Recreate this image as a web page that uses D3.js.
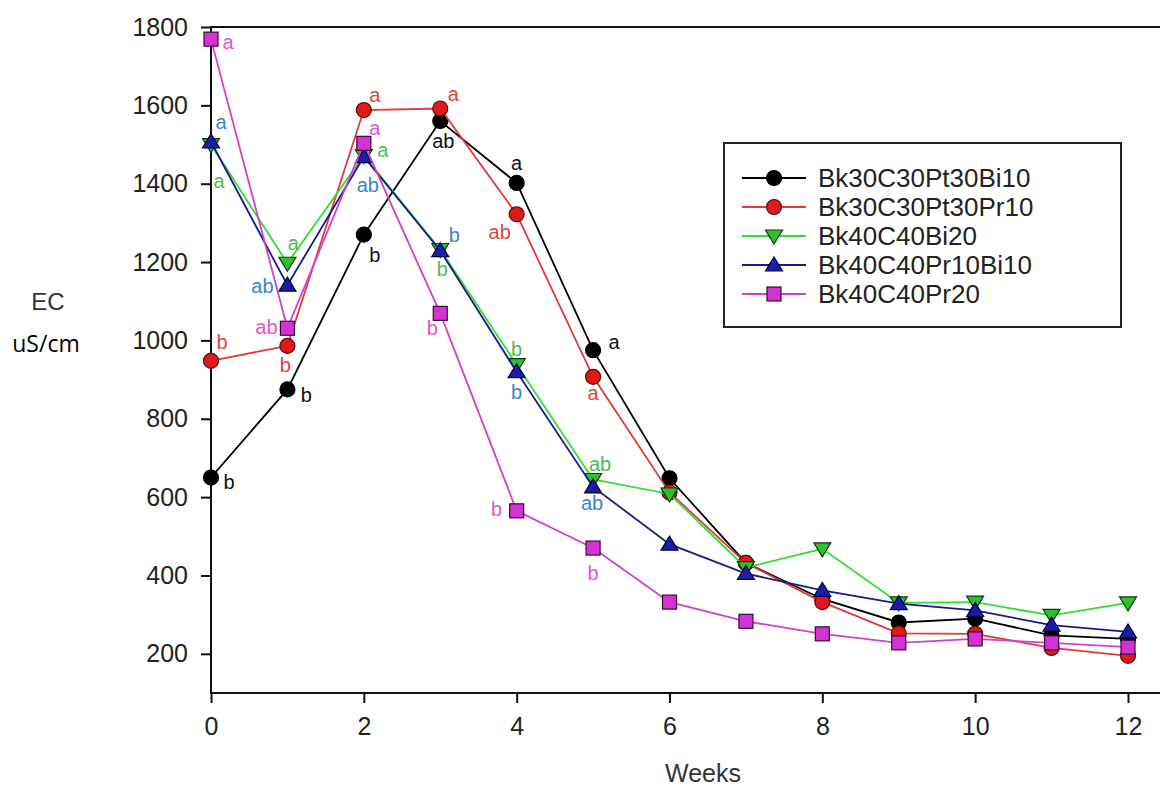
<!DOCTYPE html>
<html>
<head>
<meta charset="utf-8">
<script src="https://cdn.jsdelivr.net/npm/d3@7"></script>
<style>
  html, body { margin: 0; padding: 0; background: #fff; }
  svg { display: block; }
  text { font-family: "Liberation Sans", Arial, sans-serif; }
</style>
</head>
<body>
<svg id="chart" width="1160" height="786"></svg>
<script>
// ---- data ----
const weeks = [0, 1, 2, 3, 4, 5, 6, 7, 8, 9, 10, 11, 12];
const seriesNames = ["Bk30C30Pt30Bi10", "Bk30C30Pt30Pr10", "Bk40C40Bi20", "Bk40C40Pr10Bi10", "Bk40C40Pr20"];
const ecBk30Bi10 = [650, 875, 1270, 1560, 1402, 975, 648, 432, 340, 280, 290, 247, 238];
const ecBk30Pr10 = [948, 986, 1588, 1592, 1322, 907, 612, 432, 332, 252, 251, 215, 195];
const ecBk40Bi20 = [1500, 1197, 1472, 1232, 938, 645, 608, 420, 468, 330, 332, 298, 330];
const ecBk40Pr10Bi10 = [1507, 1141, 1469, 1229, 920, 626, 480, 405, 362, 328, 311, 273, 256];
const ecBk40Pr20 = [1769, 1031, 1503, 1069, 565, 470, 332, 283, 251, 228, 238, 228, 217];
// significance letters for weeks 0-5
const lettersBk30Bi10 = ["b", "b", "b", "ab", "a", "a"];
const lettersBk30Pr10 = ["b", "b", "a", "a", "ab", "a"];
const lettersBk40Bi20 = ["a", "a", "a", "b", "b", "ab"];
const lettersBk40Pr10Bi10 = ["a", "ab", "ab", "b", "b", "ab"];
const lettersBk40Pr20 = ["a", "ab", "a", "b", "b", "b"];
const yTicks = [200, 400, 600, 800, 1000, 1200, 1400, 1600, 1800];
const xTicks = [0, 2, 4, 6, 8, 10, 12];

// ---- layout / style (not data) ----
const labelOffsets = [
  [[18,4],[19,6],[11,20],[3,20],[0,-20],[21,-8]],
  [[11,-19],[-2,19],[11,-15],[13,-14],[-17,18],[0,16]],
  [[8,36],[6,-20],[19,-5],[2,19],[0,-16],[7,-15]],
  [[10,-20],[-25,1],[4,28],[14,-16],[0,20],[-1,16]],
  [[17,3],[-21,-1],[11,-15],[-8,15],[-20,-2],[0,25]]
];
const styles = [
  {line: "#000000", fill: "#000000", stroke: "#000000", label: "#111111", shape: "circle"},
  {line: "#e03a3a", fill: "#e01a1a", stroke: "#5a0c0c", label: "#e0463c", shape: "circle"},
  {line: "#33dd33", fill: "#2ec02e", stroke: "#0b3d0b", label: "#55b855", shape: "tdown"},
  {line: "#1a1a8c", fill: "#1c1ca6", stroke: "#000040", label: "#3a86c8", shape: "tup"},
  {line: "#d03fd0", fill: "#d233d2", stroke: "#3a0a3a", label: "#e058c8", shape: "square"}
];
const values = [ecBk30Bi10, ecBk30Pr10, ecBk40Bi20, ecBk40Pr10Bi10, ecBk40Pr20];
const letters = [lettersBk30Bi10, lettersBk30Pr10, lettersBk40Bi20, lettersBk40Pr10Bi10, lettersBk40Pr20];

const svg = d3.select("#chart");
const plotLeft = 211, plotTop = 27, plotBottom = 693;
const x = d3.scaleLinear().domain([0, 12]).range([plotLeft, 1128]);
const y = d3.scaleLinear().domain([100, 1800]).range([plotBottom, plotTop]);

// frame line at top
svg.append("line").attr("x1", plotLeft).attr("x2", 1160).attr("y1", plotTop).attr("y2", plotTop)
  .attr("stroke", "#111").attr("stroke-width", 2);

// axes
const yAxis = svg.append("g").attr("transform", `translate(${plotLeft},0)`)
  .call(d3.axisLeft(y).tickValues(yTicks).tickSize(10).tickPadding(13).tickFormat(d3.format("d")));
const xAxis = svg.append("g").attr("transform", `translate(0,${plotBottom})`)
  .call(d3.axisBottom(x).tickValues(xTicks).tickSize(10).tickPadding(14).tickFormat(d3.format("d")));
[yAxis, xAxis].forEach(g => {
  g.select(".domain").remove();
  g.selectAll(".tick line").attr("stroke", "#111").attr("stroke-width", 2);
  g.selectAll(".tick text").attr("fill", "#222").style("font-size", "25px")
    .style("font-family", '"Liberation Sans", Arial, sans-serif');
});
svg.append("line").attr("x1", plotLeft).attr("x2", plotLeft).attr("y1", plotTop - 1).attr("y2", plotBottom + 1)
  .attr("stroke", "#111").attr("stroke-width", 2);
svg.append("line").attr("x1", plotLeft).attr("x2", 1160).attr("y1", plotBottom).attr("y2", plotBottom)
  .attr("stroke", "#111").attr("stroke-width", 2);

// axis titles
svg.append("text").attr("x", 703).attr("y", 782).attr("text-anchor", "middle")
  .attr("fill", "#333").style("font-size", "25px").text("Weeks");
svg.append("text").attr("x", 48).attr("y", 310).attr("text-anchor", "middle")
  .attr("fill", "#333").style("font-size", "24px").text("EC");
svg.append("text").attr("x", 46).attr("y", 352).attr("text-anchor", "middle")
  .attr("fill", "#000").style("font-size", "23px")
  .style("font-family", '"Open Sans", "Noto Sans", sans-serif').text("uS/cm");

// marker drawer
function marker(g, shape, cx, cy, st, scale) {
  const s = scale || 1;
  if (shape === "circle") {
    g.append("circle").attr("cx", cx).attr("cy", cy).attr("r", 7.5 * s)
      .attr("fill", st.fill).attr("stroke", st.stroke).attr("stroke-width", 1.2);
  } else if (shape === "square") {
    const h = 7 * s;
    g.append("rect").attr("x", cx - h).attr("y", cy - h).attr("width", 2 * h).attr("height", 2 * h)
      .attr("fill", st.fill).attr("stroke", st.stroke).attr("stroke-width", 1.2);
  } else {
    const w = 8.5 * s, hh = 8 * s;
    const pts = shape === "tup"
      ? [[cx, cy - hh], [cx + w, cy + hh * 0.75], [cx - w, cy + hh * 0.75]]
      : [[cx, cy + hh], [cx + w, cy - hh * 0.75], [cx - w, cy - hh * 0.75]];
    g.append("polygon").attr("points", pts.map(p => p.join(",")).join(" "))
      .attr("fill", st.fill).attr("stroke", st.stroke).attr("stroke-width", 1.2);
  }
}

// series
const line = d3.line().x((d, i) => x(weeks[i])).y(d => y(d));
values.forEach((vals, si) => {
  const st = styles[si];
  const g = svg.append("g");
  g.append("path").attr("d", line(vals)).attr("fill", "none")
    .attr("stroke", st.line).attr("stroke-width", 1.8);
  vals.forEach((v, i) => marker(g, st.shape, x(weeks[i]), y(v), st));
});

// significance letters
letters.forEach((ls, si) => {
  ls.forEach((l, i) => {
    const [dx, dy] = labelOffsets[si][i];
    svg.append("text").attr("x", x(weeks[i]) + dx).attr("y", y(values[si][i]) + dy)
      .attr("text-anchor", "middle").attr("dominant-baseline", "central")
      .attr("fill", styles[si].label).style("font-size", "20px").text(l);
  });
});

// legend
const lg = svg.append("g");
lg.append("rect").attr("x", 724).attr("y", 143).attr("width", 397).attr("height", 184)
  .attr("fill", "#fff").attr("stroke", "#222").attr("stroke-width", 2);
const rowY = d3.scalePoint().domain(seriesNames).range([178, 294]);
seriesNames.forEach((name, si) => {
  const st = styles[si];
  const yy = rowY(name);
  lg.append("line").attr("x1", 742).attr("x2", 806).attr("y1", yy).attr("y2", yy)
    .attr("stroke", st.line).attr("stroke-width", 1.8);
  marker(lg, st.shape, 774, yy, st);
  lg.append("text").attr("x", 818).attr("y", yy).attr("dominant-baseline", "central")
    .attr("fill", "#222").style("font-size", "26px").text(name);
});
</script>
</body>
</html>
